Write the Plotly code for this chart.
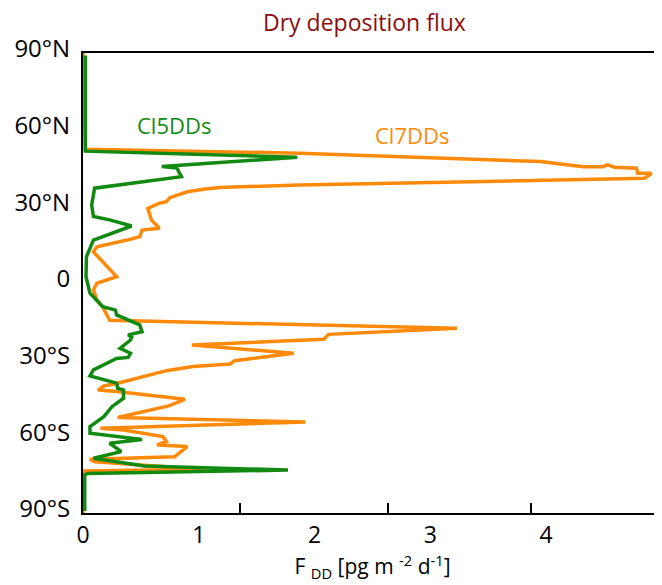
import plotly.graph_objects as go

# Cl7DDs (orange) profile, north to south
cl7_lat = [90, 52.3, 50.8, 47.5, 45.5, 45.5, 46.2, 45.3, 44.9, 42.9, 42.9, 41.0, 38.3, 37.4,
           36.7, 35.7, 33.4, 31.8, 31.2, 29.2, 24.7, 21.4, 20.7, 18.1, 16.8, 14.2, 12.2, 2.5,
           -0.1, -2.7, -6.6, -9.3, -14.6, -17.7, -20.1, -22.0, -24.3, -27.5, -30.4, -31.7,
           -32.7, -34.3, -39.2, -40.3, -41.9, -42.5, -45.5, -48.1, -52.6, -54.4, -56.8, -57.5,
           -60.1, -62.1, -63.4, -64.0, -68.0, -69.0, -70.0, -72.9, -73.6, -90]
cl7_val = [0.0, 0.02, 1.87, 3.95, 4.32, 4.49, 4.53, 4.59, 4.78, 4.79, 4.91, 4.85, 1.87, 1.18,
           1.04, 0.90, 0.75, 0.72, 0.66, 0.56, 0.59, 0.66, 0.51, 0.49, 0.38, 0.12, 0.09, 0.29,
           0.12, 0.09, 0.12, 0.17, 0.23, 3.23, 2.12, 2.08, 0.94, 1.82, 1.31, 1.27,
           0.95, 0.72, 0.30, 0.18, 0.13, 0.29, 0.88, 0.74, 0.30, 1.92, 0.15, 0.35,
           0.69, 0.72, 0.64, 0.90, 0.79, 0.06, 0.10, 1.05, 0.0, 0.0]

# Cl5DDs (green) profile, north to south
cl5_lat = [89, 51.6, 49.2, 45.6, 45.0, 41.6, 37.1, 30.5, 26.0, 24.7, 22.3, 16.8, 10.3, 2.5,
           -4.0, -9.3, -10.6, -12.5, -16.4, -19.1, -20.3, -21.2, -22.3, -25.6, -27.5, -29.1,
           -29.5, -30.8, -34.0, -36.4, -39.2, -41.2, -41.9, -45.1, -48.4, -52.3, -56.2, -58.8,
           -61.2, -62.7, -66.0, -68.6, -71.6, -73.2, -74.5, -75.1, -89.2]
cl5_val = [0.02, 0.02, 1.85, 0.68, 0.81, 0.85, 0.10, 0.075, 0.09, 0.23, 0.42, 0.09, 0.03, 0.026,
           0.06, 0.17, 0.28, 0.29, 0.49, 0.51, 0.39, 0.42, 0.41, 0.32, 0.41, 0.39,
           0.29, 0.23, 0.09, 0.06, 0.29, 0.30, 0.35, 0.35, 0.25, 0.18, 0.06, 0.06,
           0.51, 0.23, 0.33, 0.09, 0.53, 1.77, 0.04, 0.015, 0.015]

lat_ticks = [90, 60, 30, 0, -30, -60, -90]
lat_labels = ["90°N", "60°N", "30°N", "0", "30°S", "60°S", "90°S"]
x_ticks = [0, 1, 2, 3, 4]
x_labels = ["0", "1", "2", "3", "4"]
x_tickmarks = [1.36, 2.63, 3.87]

FONT = "Open Sans"
GREEN = "#128a12"
ORANGE = "#ff8a0a"

fig = go.Figure()
fig.add_trace(go.Scatter(x=cl7_val, y=cl7_lat, mode="lines", name="Cl7DDs",
                         line=dict(color=ORANGE, width=3.5), showlegend=False))
fig.add_trace(go.Scatter(x=cl5_val, y=cl5_lat, mode="lines", name="Cl5DDs",
                         line=dict(color=GREEN, width=3.5), showlegend=False))
# invisible trace on secondary x axis carrying the tick marks
fig.add_trace(go.Scatter(x=[0], y=[0], xaxis="x2", mode="markers",
                         marker=dict(opacity=0), showlegend=False, hoverinfo="skip"))

# page body has an 8px margin, so the figure is 8px smaller than the window
fig.update_layout(
    width=654, height=577,
    margin=dict(l=75, r=0, t=45, b=72, autoexpand=False),
    paper_bgcolor="white", plot_bgcolor="white",
    font=dict(family=FONT, color="black", size=22),
    title=dict(text="Dry deposition flux", x=0.545, xanchor="center", y=0.974, yanchor="middle",
               font=dict(family=FONT, size=23, color="#8b0d0d")),
    xaxis=dict(range=[0, 5], tickvals=x_ticks, ticktext=x_labels, ticks="",
               showline=True, linecolor="black", linewidth=2, mirror=True, automargin=False,
               showgrid=False, zeroline=False, tickfont=dict(size=23), ticklabelstandoff=0,
               title=dict(text="F <sub>DD</sub> [pg m <sup>-2</sup> d<sup>-1</sup>]",
                          font=dict(size=21), standoff=7)),
    xaxis2=dict(range=[0, 5], overlaying="x", side="bottom", tickvals=x_tickmarks,
                showticklabels=False, ticks="inside", ticklen=10, tickwidth=1.5,
                tickcolor="black", showgrid=False, zeroline=False, showline=False,
                automargin=False),
    yaxis=dict(range=[-90, 90], tickvals=lat_ticks, ticktext=lat_labels, ticks="",
               showline=True, linecolor="black", linewidth=2, mirror=False, automargin=False,
               showgrid=False, zeroline=False, tickfont=dict(size=24), ticklabelstandoff=6,
               ticklabelshift=-4),
    annotations=[
        dict(x=0.79, y=61.8, xref="x", yref="y", text="Cl5DDs", showarrow=False,
             font=dict(family=FONT, size=22, color=GREEN)),
        dict(x=2.84, y=57.9, xref="x", yref="y", text="Cl7DDs", showarrow=False,
             font=dict(family=FONT, size=22, color=ORANGE)),
    ],
)

fig.write_html("out.html")
